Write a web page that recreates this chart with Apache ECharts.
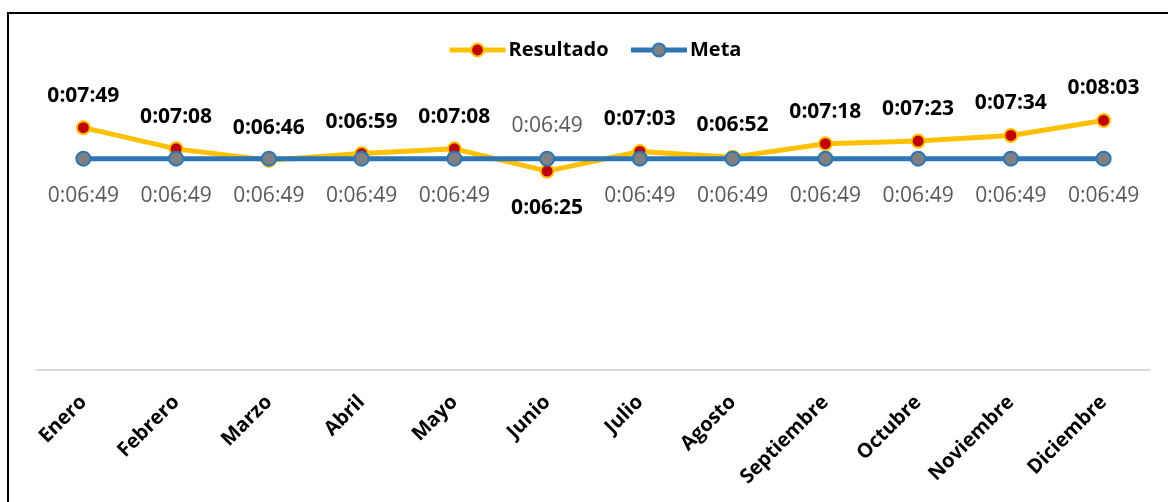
<!DOCTYPE html>
<html>
<head>
<meta charset="utf-8">
<script src="https://cdn.jsdelivr.net/npm/echarts@6/dist/echarts.min.js"></script>
<style>
  html, body { margin: 0; padding: 0; background: #fff; }
  #wrap { position: relative; width: 1168px; height: 502px; overflow: hidden; }
  #frame { position: absolute; left: 7px; top: 12px; width: 1300px; height: 600px;
           border-top: 2px solid #000; border-left: 2px solid #000; box-sizing: border-box; }
  #chart { position: absolute; left: 0; top: 0; width: 1168px; height: 502px; }
</style>
</head>
<body>
<div id="wrap">
  <div id="frame"></div>
  <div id="chart"></div>
</div>
<script>
// Monthly times (h:mm:ss)
const categories = ['Enero', 'Febrero', 'Marzo', 'Abril', 'Mayo', 'Junio', 'Julio',
  'Agosto', 'Septiembre', 'Octubre', 'Noviembre', 'Diciembre'];
const resultado = ['0:07:49', '0:07:08', '0:06:46', '0:06:59', '0:07:08', '0:06:25',
  '0:07:03', '0:06:52', '0:07:18', '0:07:23', '0:07:34', '0:08:03'];
const meta = ['0:06:49', '0:06:49', '0:06:49', '0:06:49', '0:06:49', '0:06:49',
  '0:06:49', '0:06:49', '0:06:49', '0:06:49', '0:06:49', '0:06:49'];

function toSeconds(t) {
  const p = t.split(':').map(Number);
  return p[0] * 3600 + p[1] * 60 + p[2];
}
function toClock(s) {
  const h = Math.floor(s / 3600), m = Math.floor((s % 3600) / 60), sec = Math.round(s % 60);
  return h + ':' + String(m).padStart(2, '0') + ':' + String(sec).padStart(2, '0');
}

const resSec = resultado.map(toSeconds);
const metaSec = meta.map(toSeconds);

const FONT = '"Open Sans", "DejaVu Sans", sans-serif';
// Labels swap sides only when the result drops clearly below the goal
const SWAP_MARGIN = 10;

const below = resSec.map((v, i) => metaSec[i] - v > SWAP_MARGIN);
const topLabel = { position: 'top', distance: 14 };
const bottomLabel = { position: 'bottom', distance: 19 };

const resData = resSec.map((v, i) => ({ value: v, label: below[i] ? bottomLabel : topLabel }));
const metaData = metaSec.map((v, i) => ({ value: v, label: below[i] ? topLabel : bottomLabel }));

const chart = echarts.init(document.getElementById('chart'), null, { renderer: 'canvas' });
chart.setOption({
  backgroundColor: 'transparent',
  animation: false,
  legend: {
    top: 35,
    left: 442,
    itemWidth: 56,
    itemHeight: 16,
    itemGap: 20,
    lineStyle: { width: 5 },
    textStyle: { fontFamily: FONT, fontSize: 20, fontWeight: 'bold', color: '#000', padding: [0, 0, 0, -2] },
    data: ['Resultado', 'Meta']
  },
  grid: { left: 37, right: 18, top: 60, bottom: 132, containLabel: false },
  xAxis: {
    type: 'category',
    data: categories,
    boundaryGap: true,
    axisLine: { show: true, lineStyle: { color: '#d9d9d9', width: 2 } },
    axisTick: { show: false },
    axisLabel: {
      rotate: 45,
      margin: 29,
      interval: 0,
      fontFamily: FONT,
      fontSize: 20,
      fontWeight: 'bold',
      color: '#000'
    }
  },
  yAxis: {
    type: 'value',
    min: 0,
    max: 600,
    show: false
  },
  series: [
    {
      name: 'Resultado',
      type: 'line',
      data: resData,
      symbol: 'circle',
      symbolSize: 13,
      lineStyle: { color: '#FFC000', width: 5 },
      itemStyle: { color: '#C00000', borderColor: '#FFC000', borderWidth: 2 },
      label: {
        show: true,
        fontFamily: FONT,
        fontSize: 21,
        fontWeight: 'bold',
        color: '#000',
        formatter: p => toClock(p.value)
      },
      z: 2
    },
    {
      name: 'Meta',
      type: 'line',
      data: metaData,
      symbol: 'circle',
      symbolSize: 14,
      lineStyle: { color: '#2E75B6', width: 5 },
      itemStyle: { color: '#808080', borderColor: '#2E75B6', borderWidth: 2 },
      label: {
        show: true,
        fontFamily: FONT,
        fontSize: 21,
        color: '#595959',
        formatter: p => toClock(p.value)
      },
      z: 3
    }
  ]
});
</script>
</body>
</html>
